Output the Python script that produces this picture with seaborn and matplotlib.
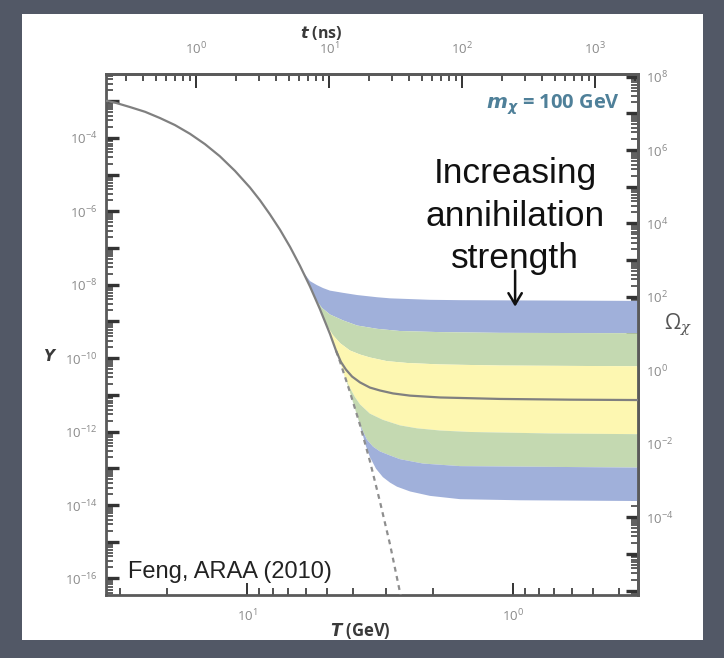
import numpy as np
import matplotlib
matplotlib.use("Agg")
import matplotlib.pyplot as plt
import seaborn as sns
from matplotlib.ticker import LogLocator, FixedLocator, FuncFormatter, NullFormatter
from matplotlib.patches import Rectangle

# ---------------- data (log10 values) ----------------
# equilibrium abundance, T in GeV, Y dimensionless
eq_log10T = [1.530, 1.496, 1.440, 1.383, 1.327, 1.271, 1.214, 1.158, 1.102, 1.045,
             0.989, 0.951, 0.914, 0.876, 0.838, 0.801, 0.763,
             0.726, 0.688, 0.650, 0.613, 0.575, 0.538, 0.500, 0.462, 0.425, 0.406]
eq_log10Y = [-2.99, -3.04, -3.16, -3.29, -3.46, -3.65, -3.89, -4.17, -4.50, -4.90,
             -5.35, -5.70, -6.08, -6.50, -6.97, -7.48, -8.05,
             -8.66, -9.34, -10.10, -10.92, -11.82, -12.80, -13.91, -15.08, -16.37, -17.05]

# freeze-out curves (band edges), from departure point to right edge
b1_log10T = [0.789, 0.763, 0.737, 0.714, 0.688, 0.639, 0.586, 0.511, 0.462, 0.312, 0.199, -0.139, -0.470]
b1_log10Y = [-7.65, -7.90, -8.01, -8.09, -8.16, -8.22, -8.28, -8.34, -8.37, -8.41, -8.42, -8.43, -8.44]

b2_log10T = [0.741, 0.718, 0.688, 0.639, 0.586, 0.511, 0.425, 0.274, 0.049, -0.470]
b2_log10Y = [-8.41, -8.63, -8.81, -8.97, -9.11, -9.20, -9.26, -9.29, -9.31, -9.32]

b3_log10T = [0.703, 0.677, 0.650, 0.613, 0.575, 0.538, 0.474, 0.398, 0.274, 0.049, -0.470]
b3_log10Y = [-9.07, -9.37, -9.59, -9.79, -9.90, -9.98, -10.08, -10.13, -10.17, -10.20, -10.22]

mid_log10T = [0.665, 0.647, 0.628, 0.605, 0.575, 0.538, 0.500, 0.451, 0.387, 0.274, 0.049, -0.214, -0.470]
mid_log10Y = [-9.80, -10.10, -10.31, -10.50, -10.66, -10.80, -10.88, -10.96, -11.02, -11.07, -11.11, -11.13, -11.14]

b4_log10T = [0.632, 0.613, 0.594, 0.575, 0.538, 0.489, 0.425, 0.361, 0.274, 0.162, -0.139, -0.470]
b4_log10Y = [-10.51, -10.81, -11.06, -11.26, -11.51, -11.68, -11.83, -11.91, -11.97, -12.01, -12.05, -12.07]

b5_log10T = [0.598, 0.583, 0.568, 0.549, 0.526, 0.500, 0.462, 0.425, 0.338, 0.199, -0.139, -0.470]
b5_log10Y = [-11.28, -11.63, -11.93, -12.22, -12.41, -12.54, -12.65, -12.75, -12.87, -12.94, -12.96, -12.98]

b6_log10T = [0.568, 0.553, 0.538, 0.515, 0.489, 0.462, 0.436, 0.387, 0.312, 0.199, -0.026, -0.470]
b6_log10Y = [-12.01, -12.39, -12.69, -13.01, -13.24, -13.39, -13.50, -13.63, -13.75, -13.84, -13.87, -13.89]

band_colors = ["#a0b0da", "#c4d9b1", "#fdf7b1", "#c4d9b1", "#a0b0da"]

left_labels = [-4, -6, -8, -10, -12, -14, -16]
right_labels = [8, 6, 4, 2, 0, -2, -4]
bottom_labels = [1, 0]
top_labels = [0, 1, 2, 3]

# axis conversions
t_const = 242.0          # t[ns] = t_const / T[GeV]^2
omega_log_offset = 10.33  # log10(Omega) = log10(Y) + offset

# ---------------- figure ----------------
W, H = 724, 658
sns.set_theme(style="white")
plt.rcParams["font.family"] = ["Open Sans", "DejaVu Sans"]
plt.rcParams["mathtext.default"] = "regular"

fig = plt.figure(figsize=(W / 100, H / 100), dpi=100)
fig.patch.set_facecolor("#525866")
fig.add_artist(Rectangle((22 / W, 1 - 640 / H), (703 - 22) / W, (640 - 14) / H,
                         transform=fig.transFigure, facecolor="white", edgecolor="none", zorder=0))

ax = fig.add_axes([106 / W, 1 - 595 / H, (638 - 106) / W, (595 - 74) / H])
ax.set_facecolor("white")
ax.set_xscale("log")
ax.set_yscale("log")
ax.set_xlim(10 ** 1.530, 10 ** -0.470)
ax.set_ylim(10 ** -16.45, 10 ** -2.26)


def boundary(fT, fY):
    eT = [t for t in eq_log10T if t > fT[0]]
    eY = eq_log10Y[:len(eT)]
    return np.array(eT + fT), np.array(eY + fY)


curves = [boundary(b1_log10T, b1_log10Y), boundary(b2_log10T, b2_log10Y),
          boundary(b3_log10T, b3_log10Y), boundary(b4_log10T, b4_log10Y),
          boundary(b5_log10T, b5_log10Y), boundary(b6_log10T, b6_log10Y)]

for i, col in enumerate(band_colors):
    uT, uY = curves[i]
    lT, lY = curves[i + 1]
    xs = np.concatenate([uT, lT[::-1]])
    ys = np.concatenate([uY, lY[::-1]])
    ax.fill(10 ** xs, 10 ** ys, color=col, lw=0, zorder=1)

# solid line: equilibrium then the central freeze-out curve
sT, sY = boundary(mid_log10T, mid_log10Y)
sns.lineplot(x=10 ** sT, y=10 ** sY, ax=ax, sort=False, estimator=None,
             color="#808080", lw=1.6, zorder=4)

# dashed equilibrium continuation
dT = [mid_log10T[0]] + [t for t in eq_log10T if t < mid_log10T[0]]
dY = [mid_log10Y[0]] + [y for t, y in zip(eq_log10T, eq_log10Y) if t < mid_log10T[0]]
sns.lineplot(x=10 ** np.array(dT), y=10 ** np.array(dY), ax=ax, sort=False, estimator=None,
             color="#8e8e8e", lw=1.6, zorder=3, linestyle=(0, (2.2, 2.0)))

# ---------------- ticks ----------------
tick_col = "#333333"
lab_col = "#8a8a8a"
minor_mult = np.arange(2, 10)


def fmt_factory(allowed):
    def f(v, pos):
        e = int(round(np.log10(v)))
        if e in allowed:
            return r"$10^{%s}$" % (("\u2212%d" % -e) if e < 0 else "%d" % e)
        return ""
    return FuncFormatter(f)


def minor_locs(lo, hi):
    dec = 10.0 ** np.arange(lo, hi)
    return FixedLocator(np.outer(dec, minor_mult).ravel())


ax.xaxis.set_major_locator(LogLocator(base=10, numticks=40))
ax.xaxis.set_minor_locator(minor_locs(-2, 3))
ax.yaxis.set_major_locator(LogLocator(base=10, numticks=40))
ax.yaxis.set_minor_locator(minor_locs(-18, 0))
ax.xaxis.set_minor_formatter(NullFormatter())
ax.yaxis.set_minor_formatter(NullFormatter())
ax.yaxis.set_major_formatter(fmt_factory(left_labels))
ax.xaxis.set_major_formatter(fmt_factory(bottom_labels))
ax.tick_params(which="both", bottom=True, left=True, top=False, right=False,
               direction="in", colors=tick_col, labelcolor=lab_col, labelsize=9.5)
ax.tick_params(axis="x", which="major", length=9, width=1.4, pad=9)
ax.tick_params(axis="x", which="minor", length=5, width=1.2)
ax.tick_params(axis="y", which="major", length=9, width=2.4, pad=6)
ax.tick_params(axis="y", which="minor", length=5, width=1.1)

secx = ax.secondary_xaxis("top", functions=(lambda T: t_const / np.asarray(T) ** 2,
                                            lambda t: np.sqrt(t_const / np.asarray(t))))
secx.xaxis.set_major_locator(LogLocator(base=10, numticks=40))
secx.xaxis.set_minor_locator(minor_locs(-2, 5))
secx.xaxis.set_minor_formatter(NullFormatter())
secx.xaxis.set_major_formatter(fmt_factory(top_labels))
secx.tick_params(which="both", top=True, direction="in", colors=tick_col, labelcolor=lab_col,
                 labelsize=9.5)
secx.tick_params(which="major", length=10, width=1.4, pad=12)
secx.tick_params(which="minor", length=5, width=1.2)

k = 10 ** omega_log_offset
secy = ax.secondary_yaxis("right", functions=(lambda y: np.asarray(y) * k,
                                              lambda o: np.asarray(o) / k))
secy.yaxis.set_major_locator(LogLocator(base=10, numticks=40))
secy.yaxis.set_minor_locator(minor_locs(-8, 10))
secy.yaxis.set_minor_formatter(NullFormatter())
secy.yaxis.set_major_formatter(fmt_factory(right_labels))
secy.tick_params(which="both", right=True, direction="in", colors=tick_col, labelcolor=lab_col,
                 labelsize=9.5, pad=6)
secy.tick_params(which="major", length=9, width=2.4)
secy.tick_params(which="minor", length=5, width=1.1)

for sp in list(ax.spines.values()) + [secx.spines["top"], secy.spines["right"]]:
    sp.set_color("#5a5a5a")
    sp.set_linewidth(2.0)

# ---------------- labels ----------------
def ftext(px, py, s, **kw):
    fig.text(px / W, 1 - py / H, s, **kw)


ftext(321, 33, r"$\mathbfit{t}$ (ns)", ha="center", va="center", fontsize=11.5,
      fontweight="bold", color="#3a3a3a", math_fontfamily="dejavusans")
ftext(360, 631, r"$\mathbfit{T}$ (GeV)", ha="center", va="center", fontsize=12,
      fontweight="bold", color="#3a3a3a", math_fontfamily="dejavusans")
ftext(50, 357, r"$\mathbfit{Y}$", ha="center", va="center", fontsize=11,
      color="#3a3a3a", math_fontfamily="dejavusans")
ftext(678, 325, r"$\Omega_{\mathit{\chi}}$", ha="center", va="center", fontsize=15,
      color="#555555", math_fontfamily="dejavuserif")
ftext(620, 105, r"$\mathbfit{m}_{\mathbfit{\chi}}$ = 100 GeV", ha="right", va="center",
      fontsize=14.5, fontweight="bold", color="#4f8099", math_fontfamily="dejavusans")

ax.text(0.769, 0.727, "Increasing\nannihilation\nstrength", transform=ax.transAxes,
        ha="center", va="center", fontsize=25.5, linespacing=1.36, color="#111111",
        family=["Liberation Sans", "DejaVu Sans"])
ax.annotate("", xy=(0.769, 0.548), xytext=(0.769, 0.628), xycoords="axes fraction",
            arrowprops=dict(arrowstyle="->,head_length=0.5,head_width=0.3", color="#111111",
                            lw=1.8, mutation_scale=16))
ax.text(0.042, 0.044, "Feng, ARAA (2010)", transform=ax.transAxes, ha="left", va="center",
        fontsize=17, color="#222222", family=["Liberation Sans", "DejaVu Sans"])

fig.savefig("out.png", dpi=100, facecolor=fig.get_facecolor())
